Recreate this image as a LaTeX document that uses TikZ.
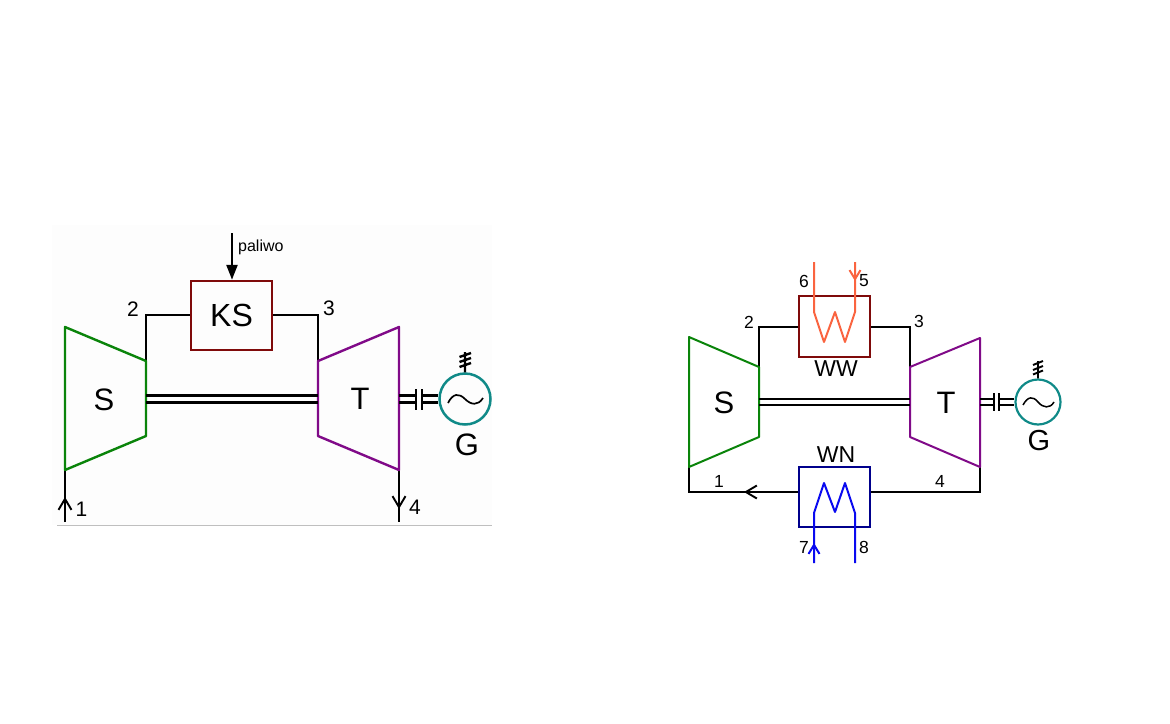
\documentclass[tikz,border=0pt]{standalone}
\usepackage{fontspec}
\setmainfont{Liberation Sans}
\usetikzlibrary{arrows.meta}
\definecolor{cgreen}{HTML}{0A840A}
\definecolor{cred}{HTML}{7F0A0A}
\definecolor{cpurple}{HTML}{800A88}
\definecolor{cteal}{HTML}{108A88}
\definecolor{cnavy}{HTML}{00008C}
\definecolor{ccoral}{HTML}{FA6440}
\definecolor{cblue}{HTML}{0A0AF0}
\definecolor{cback}{HTML}{FDFDFD}
\tikzset{
  x=1pt,y=-1pt,
  pipe/.style={draw=black,line width=#1,line join=miter},
  pipe/.default=1.9pt,
  boxnode/.style={draw=#1,line width=2.5pt,minimum width=0pt,inner sep=0pt},
  body/.style={draw=#1,line join=round},
  lab/.style={inner sep=0pt,font=\fontsize{21}{23}\selectfont},
  small/.style={inner sep=0pt,font=\fontsize{17.5}{20}\selectfont},
  big/.style={inner sep=0pt,font=\fontsize{31}{33}\selectfont},
  barb/.style={-{Straight Barb[length=11pt,width=13pt,line width=1.9pt]}},
}
\begin{document}
\begin{tikzpicture}[x=1pt,y=-1pt]
\useasboundingbox (0,0) rectangle (1170,723);
% ---------- left ----------
\fill[cback] (52,225) rectangle (492,525);
\draw[black!25,line width=1pt] (57,525) -- (492,525);
\coordinate (s1a) at (65,327); \coordinate (s1b) at (146,361);
\coordinate (s1c) at (146,436); \coordinate (s1d) at (65,470);
\coordinate (t1a) at (318,361); \coordinate (t1b) at (399,327);
\coordinate (t1c) at (399,470); \coordinate (t1d) at (318,436);
\node[boxnode=cred,minimum width=81pt,minimum height=69pt,
      font=\fontsize{32}{34}\selectfont] (ks) at (231.5,315.5) {KS};
\coordinate (p0) at (232,233);
\coordinate (in1) at (65,522); \coordinate (in1t) at (65,497);
\coordinate (out4) at (399,522); \coordinate (out4t) at (399,509);
\coordinate (c2) at (146,315); \coordinate (c3) at (318,315);
\draw[pipe] (s1b) -- (c2) -- (c2 -| ks.west);
\draw[pipe] (c3 -| ks.east) -- (c3) -- (t1a);
\draw[pipe=2.4pt] (s1d) -- (in1);
\draw[pipe=1.9pt,barb] (in1) -- (in1t);
\draw[pipe=1.9pt] (t1c) -- (out4);
\draw[pipe=1.9pt,barb] (t1c) -- (out4t);
\draw[pipe=2.4pt,-{Triangle[length=15pt,width=11pt]}] (p0) -- (ks.north -| p0);
\draw[body=cgreen,line width=2.4pt] (s1a) -- (s1b) -- (s1c) -- (s1d) -- cycle;
\draw[body=cpurple,line width=2.4pt] (t1a) -- (t1b) -- (t1c) -- (t1d) -- cycle;
\node[big] (S1) at (104,400) {S};
\node[big] (T1) at (360,399) {T};
\node[lab] (n1) at (81.5,509) {1};
\node[lab] (n2) at (133,309) {2};
\node[lab] (n3) at (329,308) {3};
\node[lab] (n4) at (415,507) {4};
\node[anchor=west,inner sep=0pt,font=\fontsize{16}{18}\selectfont] (pal) at (238,247) {paliwo};
\draw[pipe=2.3pt] (146,395.5) -- (318,395.5) (146,402.5) -- (318,402.5);
% generator 1
\node[circle,draw=cteal,line width=2.5pt,minimum size=51pt,inner sep=0pt] (g1) at (465,399) {};
\coordinate (b1a) at (416,389); \coordinate (b1b) at (416,410);
\coordinate (b1c) at (422,389); \coordinate (b1d) at (422,410);
\draw[pipe=2.3pt] (399,395.5) -- (416,395.5) (399,402.5) -- (416,402.5)
  (422,395.5) -- (g1.west |- 0,395.5) (422,402.5) -- (g1.west |- 0,402.5);
\draw[pipe=2pt] (b1a) -- (b1b) (b1c) -- (b1d);
\draw[line width=1.7pt] (448,403) .. controls (453,393) and (459,393) .. (465,399)
  .. controls (471,405) and (478,406) .. (483,398);
\draw[pipe=2.4pt] (g1.north) -- (465,352)
  (459.5,357) -- (471,353) (459.5,362) -- (471,358) (459.5,367) -- (471,363);
\node[big] (G1) at (467,445) {G};
% ---------- right ----------
\coordinate (s2a) at (689,337); \coordinate (s2b) at (759,367);
\coordinate (s2c) at (759,437); \coordinate (s2d) at (689,467);
\coordinate (t2a) at (910,367); \coordinate (t2b) at (980,338);
\coordinate (t2c) at (980,467); \coordinate (t2d) at (910,437);
\node[boxnode=cred,minimum width=71pt,minimum height=61pt] (ww) at (834.5,326.5) {};
\node[boxnode=cnavy,minimum width=71pt,minimum height=60pt] (wn) at (834.5,497) {};
\coordinate (d2) at (759,327); \coordinate (d3) at (910,327);
\coordinate (d1) at (689,492); \coordinate (d4) at (980,492);
\coordinate (ar1) at (744,492);
\draw[pipe] (s2b) -- (d2) -- (d2 -| ww.west);
\draw[pipe] (d3 -| ww.east) -- (d3) -- (t2a);
\draw[pipe] (t2c) -- (d4) -- (d4 -| wn.east);
\draw[pipe] (wn.west |- d1) -- (d1) -- (s2d);
\draw[pipe,barb] (wn.west |- ar1) -- (ar1);
\draw[body=cgreen,line width=2pt] (s2a) -- (s2b) -- (s2c) -- (s2d) -- cycle;
\draw[body=cpurple,line width=2pt] (t2a) -- (t2b) -- (t2c) -- (t2d) -- cycle;
\draw[draw=ccoral,line width=2pt,line join=round]
  (814,262) -- (814,312) -- (824,342) -- (835,312) -- (845,342) -- (855,312) -- (855,262);
\draw[draw=ccoral,line width=2pt,-{Straight Barb[length=9pt,width=11pt,line width=2pt]}] (855,262) -- (855,281);
\draw[draw=cblue,line width=2pt,line join=round]
  (814,563) -- (814,513) -- (824,483) -- (835,512) -- (845,483) -- (855,513) -- (855,563);
\draw[draw=cblue,line width=2pt,-{Straight Barb[length=9pt,width=11pt,line width=2pt]}] (814,563) -- (814,543);
\node[big] (S2) at (724,403) {S};
\node[big] (T2) at (946,403) {T};
\node[small,font=\fontsize{23}{25}\selectfont] (wwl) at (836,369) {WW};
\node[small,font=\fontsize{23}{25}\selectfont] (wnl) at (836,455) {WN};
\node[small] (m1) at (719,481) {1};
\node[small] (m2) at (749,322) {2};
\node[small] (m3) at (919,321) {3};
\node[small] (m4) at (940,481) {4};
\node[small] (m5) at (864,281) {5};
\node[small] (m6) at (804,281) {6};
\node[small] (m7) at (804,547) {7};
\node[small] (m8) at (864,547) {8};
\draw[pipe=2.3pt] (759,399) -- (910,399) (759,405) -- (910,405);
% generator 2
\node[circle,draw=cteal,line width=2.2pt,minimum size=45pt,inner sep=0pt] (g2) at (1038,402) {};
\draw[pipe=2.2pt] (980,399) -- (994,399) (980,405) -- (994,405)
  (999,399) -- (g2.west |- 0,399) (999,405) -- (g2.west |- 0,405);
\draw[pipe=1.9pt] (994,393) -- (994,411) (999,393) -- (999,411);
\draw[line width=1.5pt] (1023,405) .. controls (1028,396) and (1033,396) .. (1038,402)
  .. controls (1043,408) and (1050,409) .. (1054,402);
\draw[pipe=1.9pt] (g2.north) -- (1038,361)
  (1033,365) -- (1043,361) (1033,370) -- (1043,366) (1033,374.5) -- (1043,370.5);
\node[big,font=\fontsize{29}{31}\selectfont] (G2) at (1039,441) {G};
\end{tikzpicture}
\end{document}
